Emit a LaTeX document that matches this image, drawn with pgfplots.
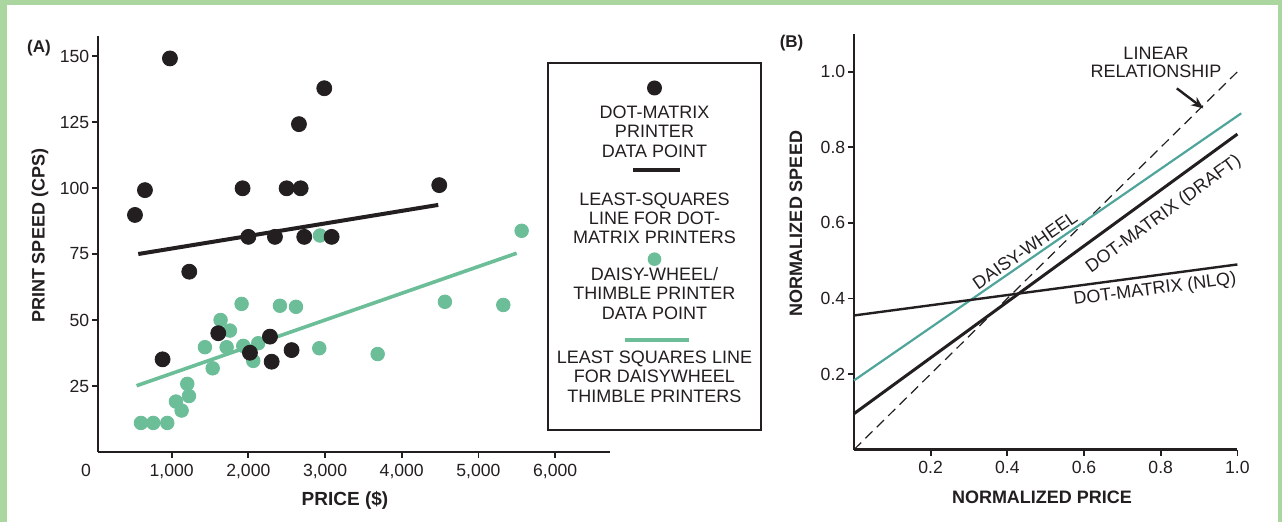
\documentclass[border=0pt]{standalone}
\usepackage{fontspec}
\setmainfont{Liberation Sans}
\usepackage{pgfplots}
\pgfplotsset{compat=1.18}
\usetikzlibrary{arrows.meta}
\definecolor{ink}{RGB}{35,31,32}
\definecolor{dgreen}{RGB}{108,190,152}
\definecolor{bgreen}{RGB}{80,165,155}
\definecolor{framegreen}{RGB}{172,214,160}
\newcommand{\ft}{\fontsize{9}{9.7}\selectfont}
\begin{document}
\begin{tikzpicture}
\path[use as bounding box] (0,0) rectangle (641pt,261pt);
\fill[framegreen] (0,0) rectangle (641pt,261pt);
\fill[white] (3.5pt,0) rectangle (639pt,258.5pt);
\pgfplotsset{mystyle/.style={scale only axis, axis lines=left,
  axis line style={-, line width=1.1pt, ink},
  tick align=outside, major tick length=3pt,
  tick style={line width=0.9pt, ink},
  ticklabel style={font=\fontsize{8.8}{10}\selectfont, text=ink, inner sep=1.2pt},
  xticklabel style={yshift=-1.5pt},
  /pgf/number format/assume math mode=true,
  scaled ticks=false, clip=false}}
% ---------------- Panel A ----------------
\begin{axis}[mystyle, at={(49pt,35pt)}, anchor=south west,
  width=255.8pt, height=208pt,
  xmin=40, xmax=6710, ymin=0, ymax=157.6,
  xtick={1000,2000,3000,4000,5000,6000},
  ytick={25,50,75,100,125,150}]
\addplot[only marks, mark=*, mark size=3.4pt, color=dgreen] coordinates {
(600,11) (760,11) (943,11) (1056,19.1) (1130,15.7) (1204,25.8) (1226,21.2)
(1434,39.7) (1535,31.7) (1638,50) (1760,46) (1717,39.7) (1912,56.1) (1934,40.2)
(2064,34.5) (2129,41.2) (2412,55.4) (2621,55) (2925,39.3) (2934,82) (3686,37.1)
(4563,56.9) (5324,55.7) (5563,83.8)};
\addplot[dgreen, line width=1.8pt] coordinates {(543,25.1) (5498,75.3)};
\addplot[only marks, mark=*, mark size=3.75pt, color=ink] coordinates {
(522,89.8) (652,99.2) (978,149.1) (882,35.1) (1230,68.3) (1925,99.9) (2000,81.5)
(2347,81.5) (2499,99.9) (2682,99.9) (2660,124.2) (2990,137.8) (2729,81.5) (3086,81.5)
(4489,101.1) (1608,45) (2021,37.6) (2282,43.7) (2304,34.2) (2564,38.6)};
\addplot[ink, line width=2pt] coordinates {(565,75) (4476,93.6)};
\end{axis}
% ---------------- Panel B ----------------
\begin{axis}[mystyle, at={(427pt,36.2pt)}, anchor=south west,
  width=191.7pt, height=207.8pt,
  xmin=0, xmax=1, ymin=0, ymax=1.1,
  xtick={0.2,0.4,0.6,0.8,1.0}, ytick={0.2,0.4,0.6,0.8,1.0},
  /pgf/number format/fixed, /pgf/number format/fixed zerofill,
  /pgf/number format/precision=1]
\addplot[ink, line width=0.6pt, dash pattern=on 5pt off 3pt] coordinates {(0,0) (1,1)};
\addplot[bgreen, line width=1.1pt] coordinates {(0,0.183) (1.01,0.89)};
\addplot[ink, line width=1.5pt] coordinates {(0,0.095) (1.0,0.835)};
\addplot[ink, line width=1.2pt] coordinates {(0,0.355) (1.0,0.49)};
\draw[-{Stealth[length=6pt,width=5pt]}, line width=1.2pt, ink] (axis cs:0.842,0.956) -- (axis cs:0.911,0.903);
\node[rotate=34.7, font=\ft, text=ink, inner sep=0pt] at (axis cs:0.446,0.528) {DAISY-WHEEL};
\node[rotate=36.1, font=\ft, text=ink, inner sep=0pt] at (axis cs:0.808,0.622) {DOT-MATRIX (DRAFT)};
\node[rotate=7.4, font=\ft, text=ink, inner sep=0pt] at (axis cs:0.785,0.423) {DOT-MATRIX (NLQ)};
\end{axis}
% ---------------- Texts ----------------
\node[font=\fontsize{8.5}{10}\selectfont\bfseries, text=ink] at (19.5pt,237pt) {(A)};
\node[font=\fontsize{8.5}{10}\selectfont\bfseries, text=ink] at (395.8pt,239.3pt) {(B)};
\node[font=\fontsize{9}{10}\selectfont\bfseries, text=ink, rotate=90] at (20pt,143pt) {PRINT SPEED (CPS)};
\node[font=\fontsize{9.5}{10}\selectfont\bfseries, text=ink] at (172.5pt,11pt) {PRICE (\$)};
\node[font=\fontsize{9}{10}\selectfont\bfseries, text=ink, rotate=90] at (398pt,149pt) {NORMALIZED SPEED};
\node[font=\fontsize{9}{10}\selectfont\bfseries, text=ink] at (521pt,12.1pt) {NORMALIZED PRICE};
\node[font=\fontsize{8.8}{10}\selectfont, text=ink] at (43pt,26pt) {0};
\node[font=\fontsize{9}{9.2}\selectfont, text=ink, align=center] at (578pt,229.7pt) {LINEAR\\RELATIONSHIP};
% ---------------- Legend ----------------
\draw[ink, line width=0.6pt] (274pt,46pt) rectangle (380.5pt,229.5pt);
\fill[ink] (327.25pt,217pt) circle (3.75pt);
\node[font=\ft, text=ink, align=center] at (327.25pt,195.2pt) {DOT-MATRIX\\PRINTER\\DATA POINT};
\draw[ink, line width=2pt] (316.5pt,176pt) -- (340pt,176pt);
\node[font=\ft, text=ink, align=center] at (327.25pt,151.8pt) {LEAST-SQUARES\\LINE FOR DOT-\\MATRIX PRINTERS};
\fill[dgreen] (327.25pt,131.4pt) circle (3.4pt);
\node[font=\ft, text=ink, align=center] at (327.25pt,114.4pt) {DAISY-WHEEL/\\THIMBLE PRINTER\\DATA POINT};
\draw[dgreen, line width=1.8pt] (312.5pt,91pt) -- (344.5pt,91pt);
\node[font=\ft, text=ink, align=center] at (327.25pt,72.7pt) {LEAST SQUARES LINE\\FOR DAISYWHEEL\\THIMBLE PRINTERS};
\end{tikzpicture}
\end{document}
